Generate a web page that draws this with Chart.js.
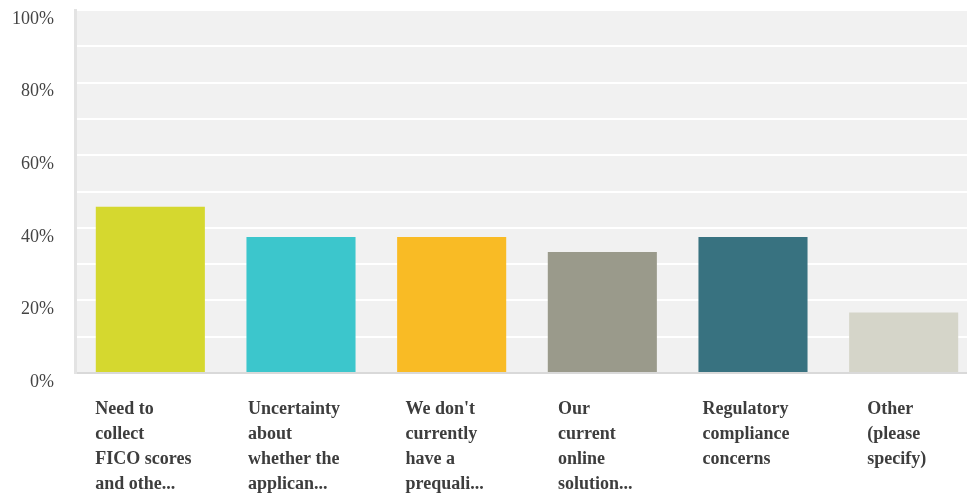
<!DOCTYPE html>
<html>
<head>
<meta charset="utf-8">
<script src="https://cdn.jsdelivr.net/npm/chart.js@4/dist/chart.umd.min.js"></script>
<style>
  html, body { margin: 0; padding: 0; background: #fff; overflow: hidden; }
  #wrap { width: 979px; height: 494px; position: relative; }
</style>
</head>
<body>
<div id="wrap"><canvas id="statsChart"></canvas></div>
<script>
// categories (already cut like in the survey tool)
const categories = [
    ['Need to', 'collect', 'FICO scores', 'and othe...'],
    ['Uncertainty', 'about', 'whether the', 'applican...'],
    ["We don't", 'currently', 'have a', 'prequali...'],
    ['Our', 'current', 'online', 'solution...'],
    ['Regulatory', 'compliance', 'concerns'],
    ['Other', '(please', 'specify)']
];
// percent of respondents
const values = [45.83, 37.5, 37.5, 33.33, 37.5, 16.67];
const barColors = ['#d5d82f', '#3cc6cc', '#f9bb25', '#9a9a8b', '#387280', '#d5d5c9'];
const yTickLabels = ['0%', '20%', '40%', '60%', '80%', '100%'];

// fond gris de la zone du graphique
const plotBackground = {
    id: 'plotBackground',
    beforeDraw(chart) {
        const a = chart.chartArea;
        const ctx = chart.ctx;
        ctx.save();
        ctx.fillStyle = '#f1f1f1';
        ctx.fillRect(a.left, a.top, a.right - a.left, a.bottom - a.top);
        ctx.restore();
    }
};

// x labels: lines left aligned, block centred under the bar
const xLabels = {
    id: 'xLabels',
    afterDraw(chart) {
        const ctx = chart.ctx;
        const xScale = chart.scales.x;
        ctx.save();
        ctx.font = 'bold 18px "Liberation Serif", "Times New Roman", serif';
        ctx.fillStyle = '#3d3d3d';
        ctx.textAlign = 'left';
        ctx.textBaseline = 'alphabetic';
        categories.forEach((lines, i) => {
            const center = xScale.getPixelForValue(i);
            const w = Math.max(...lines.map(l => ctx.measureText(l).width));
            const left = center - 7 - w / 2;
            lines.forEach((line, j) => {
                ctx.fillText(line, left, chart.chartArea.bottom + 41 + j * 25);
            });
        });
        ctx.restore();
    }
};

const ctx = document.getElementById('statsChart').getContext('2d');
new Chart(ctx, {
    type: 'bar',
    data: {
        labels: categories,
        datasets: [{
            data: values,
            backgroundColor: barColors,
            borderWidth: 0,
            barPercentage: 0.724,
            categoryPercentage: 1
        }]
    },
    options: {
        responsive: true,
        maintainAspectRatio: false,
        animation: false,
        layout: { padding: { left: 0, top: 0, right: 0, bottom: 121 } },
        plugins: {
            legend: { display: false },
            tooltip: { enabled: false }
        },
        scales: {
            x: {
                ticks: { display: false },
                grid: { display: false, drawTicks: false },
                border: { color: '#d9d9d9', width: 2 }
            },
            y: {
                min: 0,
                max: 100,
                afterFit: scale => {
                    scale.width = 75;
                    scale.paddingTop = 10;
                    scale.paddingBottom = 0;
                },
                ticks: {
                    stepSize: 10,
                    padding: 21,
                    labelOffset: 9,
                    color: '#444444',
                    font: { family: '"Liberation Serif", "Times New Roman", serif', size: 18 },
                    callback: v => (v % 20 === 0 ? yTickLabels[v / 20] : '')
                },
                grid: { color: '#ffffff', lineWidth: 2, drawTicks: false },
                border: { color: '#e3e3e3', width: 3 }
            }
        }
    },
    plugins: [plotBackground, xLabels]
});
</script>
</body>
</html>
